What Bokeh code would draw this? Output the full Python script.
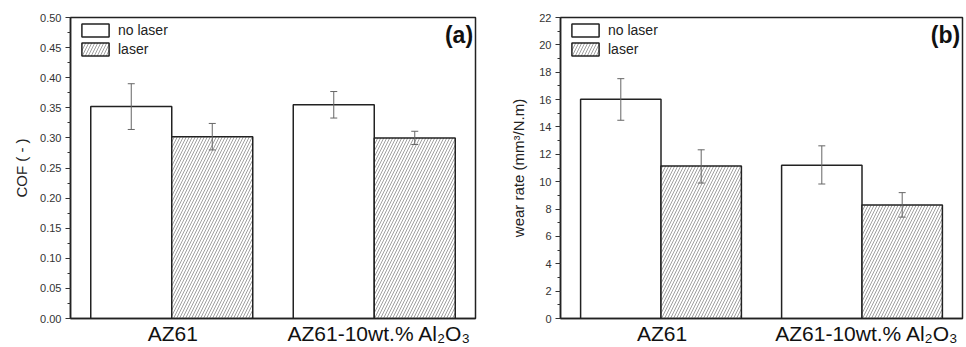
from bokeh.plotting import figure
from bokeh.models import (ColumnDataSource, Whisker, TeeHead, Legend, LegendItem,
                          Label, SingleIntervalTicker, FixedTicker, Range1d,
                          CustomJSTickFormatter)
from bokeh.layouts import row
from bokeh.embed import file_html
from bokeh.resources import INLINE

# ---- data ----
groups = [1, 2]
group_labels = ["AZ61", "AZ61-10wt.% Al\u2082O\u2083"]
series = ["no laser", "laser"]

cof_no_laser = [0.352, 0.355]
cof_no_laser_err_hi = [0.390, 0.377]
cof_no_laser_err_lo = [0.314, 0.333]
cof_laser = [0.302, 0.300]
cof_laser_err_hi = [0.324, 0.311]
cof_laser_err_lo = [0.280, 0.289]

wear_no_laser = [16.02, 11.2]
wear_no_laser_err_hi = [17.53, 12.62]
wear_no_laser_err_lo = [14.49, 9.83]
wear_laser = [11.14, 8.30]
wear_laser_err_hi = [12.33, 9.2]
wear_laser_err_lo = [9.9, 7.41]

FONT = "Liberation Sans"
BAR_W = 0.4
LABEL_SHIFT = [0.005, 0.025]   # small visual nudge of category labels


def make_panel(vals_a, hi_a, lo_a, vals_b, hi_b, lo_b, ymax, ystep, ylabel, tag,
               width, border_left, border_right, label_standoff, fmt_tick):
    p = figure(width=width, height=347, output_backend="svg", toolbar_location=None,
               x_range=Range1d(0.5, 2.5), y_range=Range1d(0, ymax),
               min_border_left=border_left, min_border_right=border_right,
               min_border_top=17, min_border_bottom=28)
    p.background_fill_color = "white"
    p.border_fill_color = "white"
    p.outline_line_color = "#222222"
    p.outline_line_width = 1.5
    p.grid.visible = False

    xa = [g - BAR_W / 2 for g in groups]
    xb = [g + BAR_W / 2 for g in groups]
    sa = ColumnDataSource(dict(x=xa, top=vals_a, hi=hi_a, lo=lo_a))
    sb = ColumnDataSource(dict(x=xb, top=vals_b, hi=hi_b, lo=lo_b))

    ra = p.vbar(x="x", top="top", width=BAR_W, bottom=0, source=sa,
                fill_color="white", line_color="#222222", line_width=1.5)
    rb = p.vbar(x="x", top="top", width=BAR_W, bottom=0, source=sb,
                fill_color="white", line_color="#222222", line_width=1.5,
                hatch_pattern="/", hatch_color="#888888", hatch_weight=0.8,
                hatch_scale=6)

    for src in (sa, sb):
        w = Whisker(base="x", upper="hi", lower="lo", source=src,
                    line_color="#666666", line_width=1, level="overlay",
                    upper_head=TeeHead(size=7, line_color="#666666", line_width=1),
                    lower_head=TeeHead(size=7, line_color="#666666", line_width=1))
        p.add_layout(w)

    legend = Legend(items=[LegendItem(label=series[0], renderers=[ra]),
                           LegendItem(label=series[1], renderers=[rb])],
                    location=(8, 261), padding=0, margin=0, spacing=3,
                    glyph_width=34, glyph_height=16, label_height=16,
                    label_standoff=6, label_text_font=FONT,
                    label_text_font_size="14px", label_text_color="#222222",
                    border_line_color=None, background_fill_alpha=0)
    p.add_layout(legend, "center")

    p.add_layout(Label(x=2.488, y=ymax * 0.985, text=tag, text_align="right",
                       text_baseline="top", text_font=FONT, text_font_size="23px",
                       text_font_style="bold", text_color="#111111"))

    # x axis with category labels
    ticks = [g + s for g, s in zip(groups, LABEL_SHIFT)]
    xa_ = p.xaxis[0]
    xa_.ticker = FixedTicker(ticks=ticks)
    xa_.major_label_overrides = {t: lab for t, lab in zip(ticks, group_labels)}
    xa_.major_label_text_font = FONT
    xa_.major_label_text_font_size = "21px"
    xa_.major_label_text_color = "#111111"
    xa_.major_label_standoff = 3
    xa_.major_tick_out = 0
    xa_.major_tick_in = 0
    xa_.minor_tick_out = 0
    xa_.minor_tick_in = 0
    xa_.major_tick_line_color = None
    xa_.minor_tick_line_color = None
    xa_.axis_line_color = "#222222"
    xa_.axis_line_width = 1.5

    # y axis
    ya = p.yaxis[0]
    ya.ticker = SingleIntervalTicker(interval=ystep, num_minor_ticks=2)
    ya.major_tick_out = 5
    ya.major_tick_in = 0
    ya.minor_tick_out = 3
    ya.minor_tick_in = 0
    ya.major_tick_line_color = "#333333"
    ya.minor_tick_line_color = "#333333"
    ya.axis_line_color = "#222222"
    ya.axis_line_width = 1.5
    ya.major_label_text_font = FONT
    ya.major_label_text_font_size = "11px"
    ya.major_label_text_color = "#333333"
    ya.major_label_standoff = 4
    ya.axis_label = ylabel
    ya.axis_label_text_font = FONT
    ya.axis_label_text_font_size = "15px"
    ya.axis_label_text_font_style = "normal"
    ya.axis_label_text_color = "#222222"
    ya.axis_label_standoff = label_standoff
    if fmt_tick:
        ya.formatter = CustomJSTickFormatter(code="return tick.toFixed(2);")
    return p


pa = make_panel(cof_no_laser, cof_no_laser_err_hi, cof_no_laser_err_lo,
                cof_laser, cof_laser_err_hi, cof_laser_err_lo,
                0.5, 0.05, "COF ( - )", "(a)", 485, 70, 10, 7, True)
pb = make_panel(wear_no_laser, wear_no_laser_err_hi, wear_no_laser_err_lo,
                wear_laser, wear_laser_err_hi, wear_laser_err_lo,
                22, 2, "wear rate (mm\u00b3/N.m)", "(b)", 481, 75, 4, 9, False)

layout = row(pa, pb, spacing=0)
open("out.html", "w").write(file_html(layout, INLINE))
